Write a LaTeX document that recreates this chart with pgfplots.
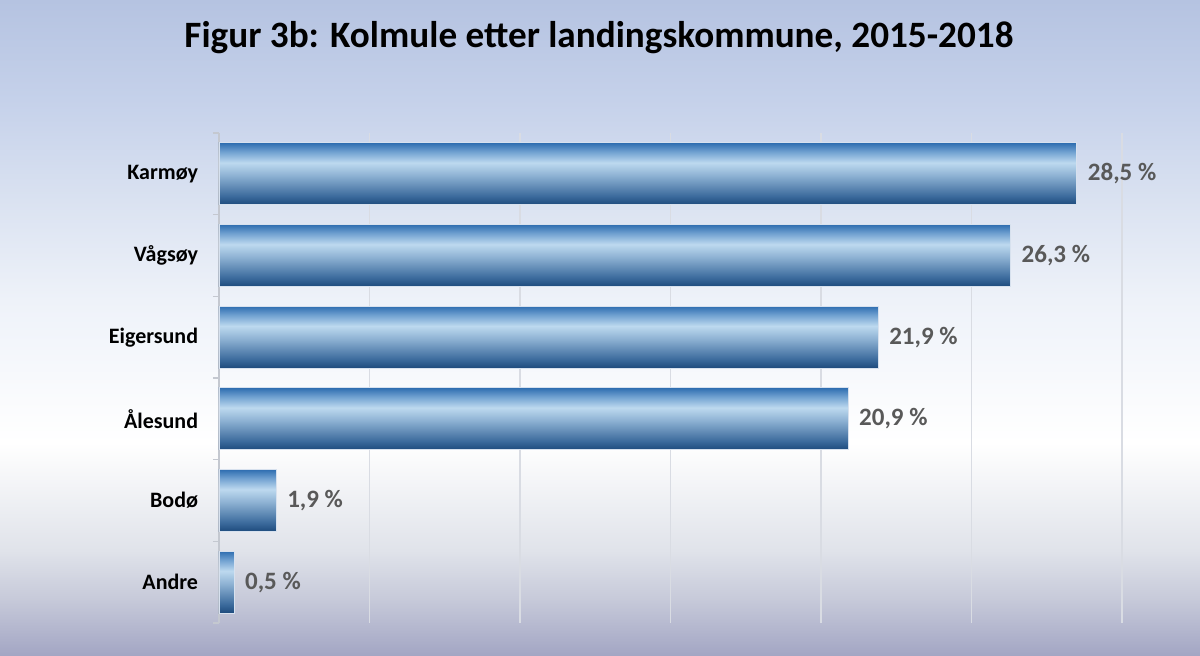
\documentclass[border=0pt]{standalone}
\usepackage{pgfplots}
\pgfplotsset{compat=1.18}
\usepackage{fontspec}
\setmainfont{Carlito}
\definecolor{valgray}{HTML}{595959}
\definecolor{gridc}{HTML}{D9DCE3}
\definecolor{axc}{HTML}{C4C8D0}
\definecolor{b0}{HTML}{A3A6C4}
\definecolor{b1}{HTML}{C6C9D9}
\definecolor{b2}{HTML}{E0E3EA}
\definecolor{b3}{HTML}{FFFFFF}
\definecolor{b4}{HTML}{EEF2F9}
\definecolor{b5}{HTML}{DAE2F1}
\definecolor{b6}{HTML}{C5D1EA}
\definecolor{b7}{HTML}{B5C3E1}
\pgfdeclareverticalshading{bgshade}{100bp}{
  color(0bp)=(b0); color(25bp)=(b0); color(29.2bp)=(b1); color(33bp)=(b2); color(41.2bp)=(b3);
  color(52.1bp)=(b4); color(59.7bp)=(b5); color(67.4bp)=(b6); color(75bp)=(b7); color(100bp)=(b7)}
\definecolor{s0}{HTML}{1D4A7C}
\definecolor{s1}{HTML}{3B6A9C}
\definecolor{s2}{HTML}{8FB3D4}
\definecolor{s3}{HTML}{BDD9EF}
\definecolor{s4}{HTML}{6FA0D0}
\definecolor{s5}{HTML}{2E6DB0}
\pgfdeclareverticalshading{barshade}{100bp}{
  color(0bp)=(s0); color(25bp)=(s0); color(32bp)=(s1); color(49bp)=(s2); color(59bp)=(s3);
  color(68bp)=(s4); color(75bp)=(s5); color(100bp)=(s5)}
\begin{document}
\begin{tikzpicture}
\shade[shading=bgshade] (-109.5pt,-16pt) rectangle (490.5pt,311.5pt);
\begin{axis}[
  at={(0,0)}, anchor=south west,
  scale only axis, width=451.5pt, height=245pt,
  xmin=0, xmax=30, ymin=-0.5, ymax=5.5, y dir=reverse,
  axis lines*=left,
  x axis line style={draw=none},
  y axis line style={draw=axc, line width=0.6pt},
  xtick={0,5,...,30}, xticklabels={}, xtick style={draw=none},
  xmajorgrids, major grid style={draw=gridc, line width=0.6pt},
  ytick={0,...,5},
  yticklabels={Karmøy,Vågsøy,Eigersund,Ålesund,Bodø,Andre},
  minor ytick={-0.5,0.5,...,5.5},
  major y tick style={draw=none},
  minor y tick style={draw=axc, line width=0.6pt},
  minor tick length=3pt, tick align=outside,
  yticklabel style={font=\bfseries\fontsize{11}{13}\selectfont, inner sep=0pt, xshift=-6pt},
  xbar, bar width=0.76, bar shift=0pt,
  nodes near coords,
  point meta=explicit symbolic,
  every node near coord/.style={font=\bfseries\fontsize{12.5}{14}\selectfont, text=valgray, anchor=west, xshift=2pt},
  barst/.style={draw={rgb,255:red,215;green,225;blue,238}, line width=0.4pt, shading=barshade},
  clip=false,
]
\addplot[barst] coordinates {(28.5,0) [28,5 \%]};
\addplot[barst] coordinates {(26.3,1) [26,3 \%]};
\addplot[barst] coordinates {(21.9,2) [21,9 \%]};
\addplot[barst] coordinates {(20.9,3) [20,9 \%]};
\addplot[barst] coordinates {(1.9,4) [1,9 \%]};
\addplot[barst] coordinates {(0.5,5) [0,5 \%]};
\end{axis}
\node[anchor=base, font=\bfseries\fontsize{18.6}{22}\selectfont] at (190pt,287.5pt) {Figur 3b: Kolmule etter landingskommune, 2015-2018};
\end{tikzpicture}
\end{document}
